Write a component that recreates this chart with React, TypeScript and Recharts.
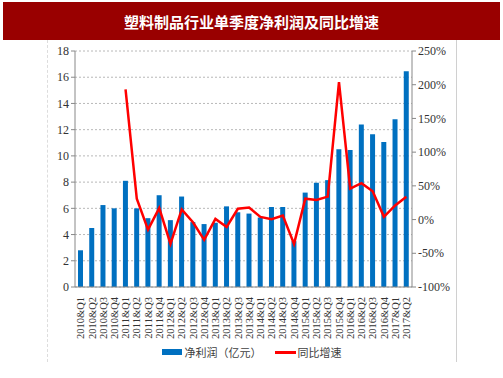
import React from 'react';
import { ComposedChart, Bar, Line, XAxis, YAxis, CartesianGrid, Legend } from 'recharts';

const categories = [
  '2010&Q1','2010&Q2','2010&Q3','2010&Q4',
  '2011&Q1','2011&Q2','2011&Q3','2011&Q4',
  '2012&Q1','2012&Q2','2012&Q3','2012&Q4',
  '2013&Q1','2013&Q2','2013&Q3','2013&Q4',
  '2014&Q1','2014&Q2','2014&Q3','2014&Q4',
  '2015&Q1','2015&Q2','2015&Q3','2015&Q4',
  '2016&Q1','2016&Q2','2016&Q3','2016&Q4',
  '2017&Q1','2017&Q2',
];

const profit = [
  2.8, 4.5, 6.25, 6.0,
  8.1, 6.0, 5.25, 7.0,
  5.1, 6.9, 4.95, 4.8,
  4.9, 6.15, 5.7, 5.6,
  5.3, 6.1, 6.1, 3.5,
  7.2, 7.95, 8.15, 10.5,
  10.45, 12.4, 11.65, 11.05,
  12.8, 16.45,
];

const growth: (number | null)[] = [
  null, null, null, null,
  193, 31, -15, 17,
  -36, 15, -4, -30,
  1, -11, 16, 18,
  4, 0.5, 6, -36,
  31, 29, 34, 204,
  46, 54, 42, 4,
  21, 34,
];

const leftTicks = [0, 2, 4, 6, 8, 10, 12, 14, 16, 18];
const rightTicks = [-100, -50, 0, 50, 100, 150, 200, 250];

const seriesNames = ['净利润（亿元）', '同比增速'];
const title = '塑料制品行业单季度净利润及同比增速';

const data = categories.map((c, i) => ({ name: c, profit: profit[i], growth: growth[i] }));

const serif = '"Liberation Serif", "DejaVu Serif", serif';
const cjk = '"Noto Sans CJK SC", sans-serif';

const XTick = (props: any) => {
  const { x, y, payload } = props;
  const ty = y + 2;
  return (
    <text
      x={x}
      y={ty}
      transform={`rotate(-90, ${x}, ${ty})`}
      textAnchor="end"
      dy="0.35em"
      style={{ fontSize: 10.5, fontFamily: serif }}
      fill="#333"
    >
      {payload.value}
    </text>
  );
};

const LeftTick = (props: any) => {
  const { x, y, payload } = props;
  return (
    <text x={x} y={y} textAnchor="end" dy="0.35em" style={{ fontSize: 12, fontFamily: serif }} fill="#333">
      {payload.value}
    </text>
  );
};

const RightTick = (props: any) => {
  const { x, y, payload } = props;
  return (
    <text x={x} y={y} textAnchor="start" dy="0.35em" style={{ fontSize: 12, fontFamily: serif }} fill="#333">
      {`${payload.value}%`}
    </text>
  );
};

const LegendContent = () => (
  <div style={{ display: 'flex', justifyContent: 'center', alignItems: 'center', height: 28, marginTop: -4, fontFamily: cjk, fontSize: 11, color: '#404040' }}>
    <span style={{ display: 'inline-block', width: 20, height: 6, background: '#0070C0', marginRight: 3 }} />
    <span>{seriesNames[0]}</span>
    <span style={{ display: 'inline-block', width: 21, height: 3, background: '#FF0000', marginLeft: 13, marginRight: 2 }} />
    <span>{seriesNames[1]}</span>
  </div>
);

export default function App() {
  return (
    <div style={{ position: 'absolute', left: 0, top: 0, width: 503, height: 378, background: '#fff' }}>
      <div
        style={{
          position: 'absolute', left: 3, top: 2, width: 497, height: 38, background: '#990000',
          color: '#fff', fontFamily: cjk, fontWeight: 'bold', fontSize: 15,
          display: 'flex', alignItems: 'center', justifyContent: 'center',
        }}
      >
        {title}
      </div>
      <div style={{ position: 'absolute', left: 47, top: 40, width: 0, height: 322, borderLeft: '1px dashed #ddd' }} />
      <div style={{ position: 'absolute', left: 456, top: 40, width: 0, height: 322, borderLeft: '1px solid #d0d0d0' }} />
      <div style={{ position: 'absolute', left: 0, top: 0 }}>
        <ComposedChart
          width={503}
          height={378}
          data={data}
          margin={{ top: 51, right: 0, bottom: 8, left: 0 }}
        >
          <CartesianGrid yAxisId="left" vertical={false} stroke="#b8b8b8" strokeDasharray="2 2" />
          <XAxis
            dataKey="name"
            interval={0}
            height={55}
            tick={<XTick />}
            tickLine={false}
            axisLine={{ stroke: '#888' }}
          />
          <YAxis
            yAxisId="left"
            orientation="left"
            width={75}
            domain={[0, 18]}
            ticks={leftTicks}
            interval={0}
            tick={<LeftTick />}
            tickLine={{ stroke: '#888' }}
            tickSize={4}
            axisLine={{ stroke: '#888' }}
          />
          <YAxis
            yAxisId="right"
            orientation="right"
            width={91}
            domain={[-100, 250]}
            ticks={rightTicks}
            interval={0}
            tick={<RightTick />}
            tickLine={{ stroke: '#888' }}
            tickSize={4}
            axisLine={{ stroke: '#888' }}
          />
          <Legend verticalAlign="bottom" height={28} content={<LegendContent />} />
          <Bar yAxisId="left" dataKey="profit" name={seriesNames[0]} fill="#0070C0" barSize={5} isAnimationActive={false} />
          <Line
            yAxisId="right"
            dataKey="growth"
            name={seriesNames[1]}
            stroke="#FF0000"
            strokeWidth={2.5}
            dot={false}
            connectNulls={false}
            type="linear"
            isAnimationActive={false}
          />
        </ComposedChart>
      </div>
    </div>
  );
}
